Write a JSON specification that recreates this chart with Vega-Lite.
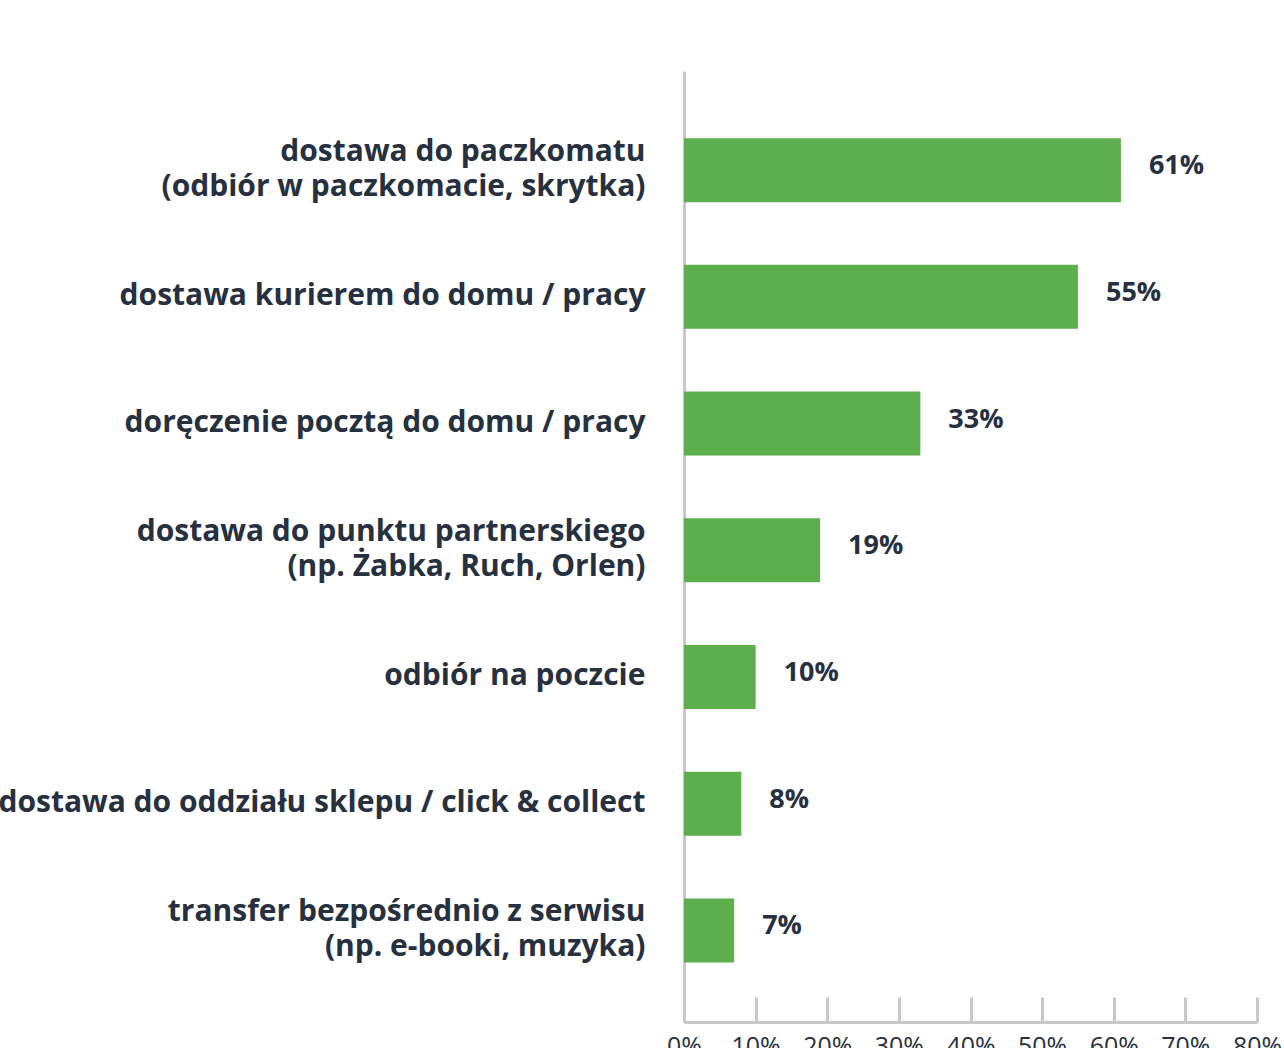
{
  "$schema": "https://vega.github.io/schema/vega-lite/v6.json",
  "width": 573,
  "height": 951,
  "autosize": {"type": "none"},
  "padding": {"left": 684, "top": 71, "right": 27, "bottom": 26},
  "background": "white",
  "config": {"view": {"stroke": null}, "font": "Open Sans"},
  "data": {
    "values": [
      {"cat": "dostawa do paczkomatu|(odbiór w paczkomacie, skrytka)", "value": 61, "pct": "61%"},
      {"cat": "dostawa kurierem do domu / pracy", "value": 55, "pct": "55%"},
      {"cat": "doręczenie pocztą do domu / pracy", "value": 33, "pct": "33%"},
      {"cat": "dostawa do punktu partnerskiego|(np. Żabka, Ruch, Orlen)", "value": 19, "pct": "19%"},
      {"cat": "odbiór na poczcie", "value": 10, "pct": "10%"},
      {"cat": "dostawa do oddziału sklepu / click & collect", "value": 8, "pct": "8%"},
      {"cat": "transfer bezpośrednio z serwisu|(np. e-booki, muzyka)", "value": 7, "pct": "7%"}
    ]
  },
  "encoding": {
    "y": {
      "field": "cat",
      "type": "nominal",
      "sort": null,
      "scale": {"paddingInner": 0.495, "paddingOuter": 0.5, "align": 0.53},
      "axis": {
        "title": null,
        "ticks": false,
        "labelPadding": 39,
        "labelAlign": "right",
        "labelFont": "Open Sans",
        "labelFontSize": 30,
        "labelFontWeight": 700,
        "labelColor": "#27303f",
        "labelLineHeight": 35,
        "labelLimit": 0,
        "labelExpr": "split(datum.label, '|')",
        "labelOffset": {"condition": {"test": "indexof(datum.label, '|') >= 0", "value": -18}, "value": -1},
        "domainColor": "#c8c8c8",
        "domainWidth": 3
      }
    }
  },
  "layer": [
    {
      "mark": {"type": "bar", "color": "#5daf4e"},
      "encoding": {
        "x": {
          "field": "value",
          "type": "quantitative",
          "scale": {"domain": [0, 80], "nice": false},
          "axis": {
            "title": null,
            "values": [0, 10, 20, 30, 40, 50, 60, 70, 80],
            "labelExpr": "datum.value + '%'",
            "grid": false,
            "domainColor": "#c8c8c8",
            "domainWidth": 3,
            "tickColor": "#c8c8c8",
            "tickWidth": 3,
            "tickSize": -25,
            "labelPadding": 37,
            "labelFlush": false,
            "labelOverlap": false,
            "labelFontSize": 25,
            "labelColor": "#27303f",
            "labelFont": "Open Sans"
          }
        }
      }
    },
    {
      "mark": {"type": "text", "align": "left", "baseline": "middle", "dx": 28, "dy": -4, "fontSize": 27, "fontWeight": 700, "color": "#27303f", "font": "Open Sans"},
      "encoding": {
        "x": {"field": "value", "type": "quantitative"},
        "text": {"field": "pct", "type": "nominal"}
      }
    }
  ]
}
